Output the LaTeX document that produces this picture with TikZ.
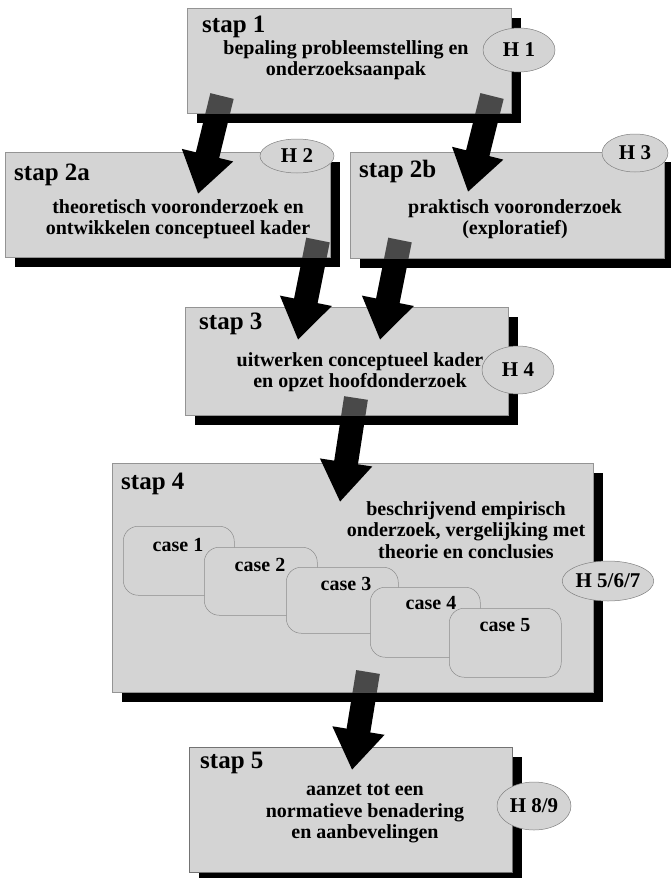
\documentclass[tikz,border=0pt]{standalone}
\usepackage{fontspec}
\setmainfont{Liberation Serif}
\usetikzlibrary{arrows.meta,shapes.geometric,shadows}
\definecolor{boxgray}{RGB}{212,212,212}
\begin{document}
\begin{tikzpicture}[x=1pt,y=-1pt,
  stepbox/.style={draw=black!55, line width=0.5pt, fill=boxgray, anchor=north west, inner sep=0pt,
    drop shadow={shadow xshift=10pt, shadow yshift=-10pt, fill=black, opacity=1}},
  tailveil/.style={fill=boxgray, fill opacity=0.35},
  fatarrow/.style={line width=24pt, black, -{Triangle[width=50pt,length=40pt]}},
  steplabel/.style={font=\bfseries\fontsize{25}{27}\selectfont, anchor=base west, inner sep=0pt},
  bodytext/.style={font=\bfseries\fontsize{20}{21.5}\selectfont, align=center, inner sep=0pt},
  hbubble/.style={ellipse, draw=black!50, line width=0.5pt, fill=boxgray, inner sep=0pt,
    font=\bfseries\fontsize{21}{23}\selectfont},
  casebox/.style={draw=black!45, line width=0.5pt, fill=boxgray, rounded corners=15pt,
    anchor=north west, inner sep=0pt},
  caselabel/.style={font=\bfseries\fontsize{20}{22}\selectfont, inner sep=0pt}
]
\useasboundingbox (0,0) rectangle (671,878);

% stap 5
\node[stepbox, minimum width=323, minimum height=125] (b5) at (189,747) {};

% stap 4 and the arrow down to stap 5
\node[stepbox, minimum width=481, minimum height=229] (b4) at (112,463) {};
\coordinate (a6s) at (368,672);
\coordinate (a6e) at (352,770);
\draw[fatarrow] (a6s) -- (a6e);
\fill[tailveil] (b4.north west) rectangle (b4.south east);

% stap 3 and the arrow down to stap 4
\node[stepbox, minimum width=323, minimum height=108] (b3) at (185,307) {};
\coordinate (a5s) at (356,398);
\coordinate (a5e) at (340,502);
\draw[fatarrow] (a5s) -- (a5e);
\fill[tailveil] (b3.north west) rectangle (b3.south east);

% stap 2a, 2b and the arrows down to stap 3
\node[stepbox, minimum width=325, minimum height=105] (b2a) at (5,152) {};
\node[stepbox, minimum width=314, minimum height=106] (b2b) at (350,152) {};
\coordinate (a3s) at (318,240);
\coordinate (a3e) at (298,340);
\coordinate (a4s) at (400,240);
\coordinate (a4e) at (380,340);
\draw[fatarrow] (a3s) -- (a3e);
\draw[fatarrow] (a4s) -- (a4e);
\fill[tailveil] (b2a.north west) rectangle (b2a.south east);
\fill[tailveil] (b2b.north west) rectangle (b2b.south east);

% stap 1 and the arrows down to stap 2a and 2b
\node[stepbox, minimum width=324, minimum height=105] (b1) at (187,8) {};
\coordinate (a1s) at (222,96);
\coordinate (a1e) at (198,194);
\coordinate (a2s) at (492,96);
\coordinate (a2e) at (468,192);
\draw[fatarrow] (a1s) -- (a1e);
\draw[fatarrow] (a2s) -- (a2e);
\fill[tailveil] (b1.north west) rectangle (b1.south east);

% the five cases inside stap 4
\node[casebox, minimum width=111, minimum height=69] (c1) at (123,526) {};
\node[casebox, minimum width=113, minimum height=68] (c2) at (204,547) {};
\node[casebox, minimum width=112, minimum height=66] (c3) at (286,567) {};
\node[casebox, minimum width=110, minimum height=70] (c4) at (370,587) {};
\node[casebox, minimum width=112, minimum height=69] (c5) at (449,608) {};
\node[caselabel] (c1l) at (178,545) {case 1};
\node[caselabel] (c2l) at (260,565) {case 2};
\node[caselabel] (c3l) at (346,584) {case 3};
\node[caselabel] (c4l) at (431,603) {case 4};
\node[caselabel] (c5l) at (505,625) {case 5};

% step titles
\node[steplabel] (s1) at (202,32) {stap 1};
\node[steplabel] (s2a) at (14,180) {stap 2a};
\node[steplabel] (s2b) at (359,177) {stap 2b};
\node[steplabel] (s3) at (199,329) {stap 3};
\node[steplabel] (s4) at (121,489) {stap 4};
\node[steplabel] (s5) at (200,768) {stap 5};

% step descriptions
\node[bodytext] (t1) at (346,60) {bepaling probleemstelling en\\onderzoeksaanpak};
\node[bodytext] (t2a) at (178,219) {theoretisch vooronderzoek en\\ontwikkelen conceptueel kader};
\node[bodytext] (t2b) at (515,219) {praktisch vooronderzoek\\(exploratief)};
\node[bodytext] (t3) at (360,372) {uitwerken conceptueel kader\\en opzet hoofdonderzoek};
\node[bodytext] (t4) at (466,530) {beschrijvend empirisch\\onderzoek, vergelijking met\\theorie en conclusies};
\node[bodytext] (t5) at (365,814) {aanzet tot een\\normatieve benadering\\en aanbevelingen};

% chapter bubbles
\node[hbubble, minimum width=72, minimum height=44] (h1) at (519,50) {H 1};
\node[hbubble, minimum width=74, minimum height=34] (h2) at (297,156) {H 2};
\node[hbubble, minimum width=66, minimum height=38] (h3) at (635,153) {H 3};
\node[hbubble, minimum width=72, minimum height=48] (h4) at (518,370) {H 4};
\node[hbubble, minimum width=78, minimum height=40] (h567) at (608,581) {H 5/6/7};
\node[hbubble, minimum width=74, minimum height=48] (h89) at (534,806) {H 8/9};
\end{tikzpicture}
\end{document}
